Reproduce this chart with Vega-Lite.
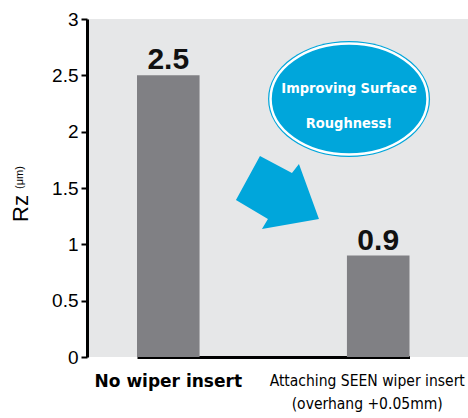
{
  "$schema": "https://vega.github.io/schema/vega-lite/v6.json",
  "width": 381,
  "height": 338,
  "autosize": {"type": "none"},
  "padding": {"left": 87, "top": 19, "right": 0, "bottom": 61},
  "background": "white",
  "config": {"view": {"fill": "#e6e7e8", "stroke": null}, "font": "Liberation Sans"},
  "datasets": {
    "bars": [
      {"condition": "No wiper insert", "y": 2.5, "label": "2.5"},
      {"condition": "Attaching SEEN wiper insert\n(overhang +0.05mm)", "y": 0.9, "label": "0.9"}
    ],
    "ellipse": [{"ax": 1.862, "y": 2.29}],
    "bubble": [{"ax": 1.862, "y": 2.379, "t": "Improving Surface\nRoughness!"}],
    "arrow": [{"ax": 1.533, "y": 1.465}],
    "unit": [{"ax": 0.3095, "y": 1.593, "t": "(μm)"}]
  },
  "encoding": {
    "y": {
      "field": "y",
      "type": "quantitative",
      "scale": {"domain": [0, 3]},
      "axis": {
        "title": "Rz",
        "values": [0, 0.5, 1, 1.5, 2, 2.5, 3],
        "format": "~g",
        "grid": false,
        "domainWidth": 3,
        "domainColor": "black",
        "tickColor": "black",
        "tickWidth": 2,
        "tickSize": 6,
        "labelFontSize": 19,
        "labelColor": "black",
        "labelPadding": 3,
        "labelFlush": false,
        "labelOverlap": false,
        "titleFontSize": 22,
        "titleFontWeight": "normal",
        "titleColor": "black",
        "titleX": -60,
        "titleY": 189,
        "titleAlign": "center",
        "titleBaseline": "alphabetic",
        "titleAngle": -90
      }
    }
  },
  "layer": [
    {
      "data": {"name": "bars"},
      "encoding": {
        "x": {
          "field": "condition",
          "type": "nominal",
          "sort": null,
          "scale": {"range": [50, 322.5], "paddingInner": 0.702, "paddingOuter": 0},
          "axis": {
            "title": null,
            "ticks": false,
            "domainWidth": 3,
            "domainColor": "black",
            "labelPadding": 16,
            "labelBaseline": "top",
            "labelColor": "black",
            "labelAngle": 0,
            "labelLimit": 0,
            "labelOverlap": false,
            "labelBound": false,
            "labelExpr": "split(datum.label, '\\n')",
            "labelLineHeight": 23,
            "labelFont": {"condition": {"test": "datum.value == 'No wiper insert'", "value": "DejaVu Sans"}, "value": "DejaVu Sans Condensed, Liberation Sans Narrow, sans-serif"},
            "labelFontWeight": {"condition": {"test": "datum.value == 'No wiper insert'", "value": "bold"}, "value": "normal"},
            "labelFontSize": {"condition": {"test": "datum.value == 'No wiper insert'", "value": 17}, "value": 15.5},
            "labelOffset": {"condition": {"test": "datum.value == 'No wiper insert'", "value": 0}, "value": -11}
          }
        }
      },
      "layer": [
        {"mark": {"type": "bar", "color": "#808084"}},
        {
          "mark": {"type": "text", "baseline": "alphabetic", "dy": -6, "fontSize": 30, "fontWeight": "bold", "color": "#111111"},
          "encoding": {"text": {"field": "label", "type": "nominal"}}
        }
      ]
    },
    {
      "encoding": {
        "x": {"field": "ax", "type": "quantitative", "scale": {"domain": [0.614, 2.4286], "nice": false, "zero": false}, "axis": null}
      },
      "layer": [
        {
          "data": {"name": "ellipse"},
          "mark": {"type": "point", "filled": true, "opacity": 1, "color": "#00a6db", "size": 26244,
                   "shape": "M-1,0C-1,-0.3954,-0.5523,-0.716,0,-0.716C0.5523,-0.716,1,-0.3954,1,0C1,0.3954,0.5523,0.716,0,0.716C-0.5523,0.716,-1,0.3954,-1,0Z"}
        },
        {
          "data": {"name": "ellipse"},
          "mark": {"type": "point", "filled": true, "opacity": 1, "fill": "#00a6db", "stroke": "white", "strokeWidth": 2.5, "size": 24649,
                   "shape": "M-1,0C-1,-0.3905,-0.5523,-0.707,0,-0.707C0.5523,-0.707,1,-0.3905,1,0C1,0.3905,0.5523,0.707,0,0.707C-0.5523,0.707,-1,0.3905,-1,0Z"}
        },
        {
          "data": {"name": "bubble"},
          "mark": {"type": "text", "font": "DejaVu Sans Condensed, Liberation Sans Narrow, sans-serif", "fontWeight": "bold", "fontSize": 14.5, "color": "white",
                   "align": "center", "baseline": "middle", "lineBreak": "\n", "lineHeight": 35},
          "encoding": {"text": {"field": "t", "type": "nominal"}}
        },
        {
          "data": {"name": "arrow"},
          "mark": {"type": "point", "filled": true, "opacity": 1, "color": "#00a6db", "size": 8100,
                   "shape": "M-0.978,0.178L-0.444,-0.8L0.267,-0.422L0.422,-0.622L0.867,0.6L-0.4,0.822L-0.267,0.6Z"}
        },
        {
          "data": {"name": "unit"},
          "mark": {"type": "text", "fontSize": 11, "color": "black", "angle": 270, "align": "center", "baseline": "alphabetic"},
          "encoding": {"text": {"field": "t", "type": "nominal"}}
        }
      ]
    }
  ],
  "resolve": {"scale": {"x": "independent"}}
}
